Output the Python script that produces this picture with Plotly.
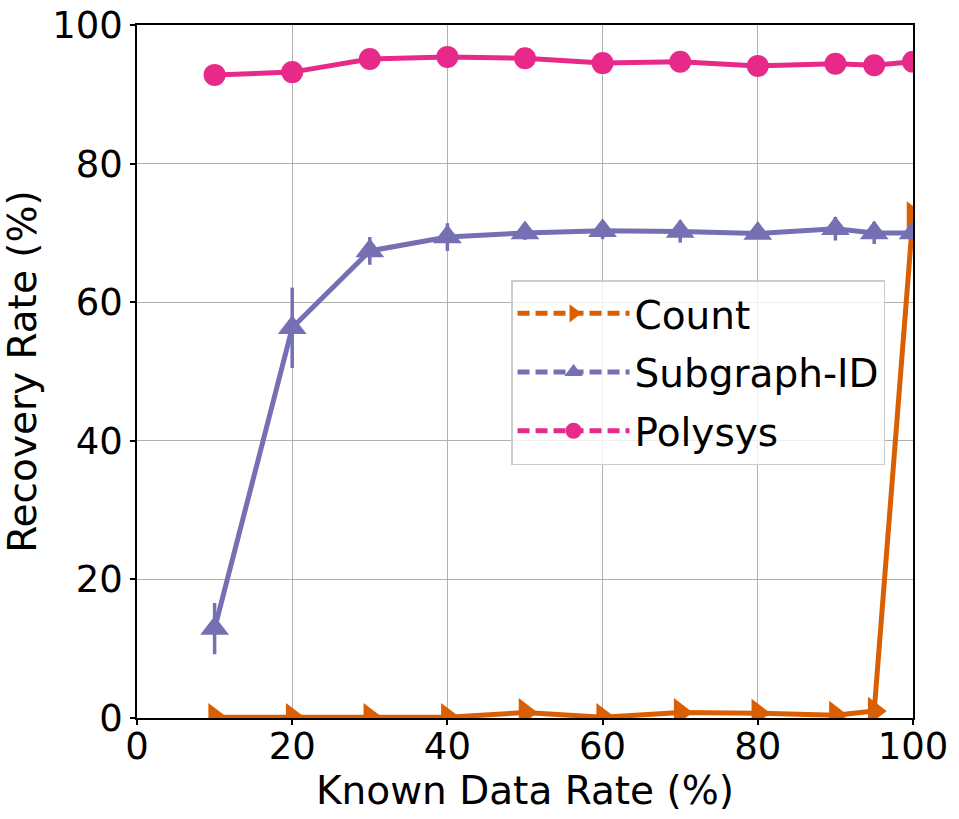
import plotly.graph_objects as go

x_vals = [10, 20, 30, 40, 50, 60, 70, 80, 90, 95, 100]

count_vals = [0.1, 0.1, 0.1, 0.1, 0.8, 0.1, 0.8, 0.7, 0.4, 1.0, 72.5]
count_err = [0.1, 0.1, 0.1, 0.1, 0.3, 0.1, 0.3, 0.3, 0.3, 0.4, 0.5]

subgraph_vals = [12.9, 56.3, 67.4, 69.4, 70.0, 70.3, 70.2, 69.9, 70.6, 70.0, 70.0]
subgraph_err = [3.7, 5.8, 2.0, 2.0, 1.0, 1.2, 1.6, 0.6, 1.7, 1.6, 0.5]

polysys_vals = [92.8, 93.2, 95.1, 95.4, 95.2, 94.5, 94.7, 94.1, 94.4, 94.2, 94.7]
polysys_err = [0.8, 0.4, 0.4, 0.4, 0.4, 0.4, 1.0, 0.4, 0.4, 0.4, 0.4]

series = [
    ("Count", count_vals, count_err, "#d95f02", "triangle-right", 25),
    ("Subgraph-ID", subgraph_vals, subgraph_err, "#7570b3", "triangle-up", 25),
    ("Polysys", polysys_vals, polysys_err, "#e7298a", "circle", 22),
]

fig = go.Figure()
for name, vals, err, color, sym, msize in series:
    fig.add_trace(go.Scatter(
        x=x_vals, y=vals, name=name, mode="lines+markers", showlegend=False,
        legendgroup=name,
        line=dict(color=color, width=5),
        marker=dict(symbol=sym, size=msize, color=color, line=dict(width=0)),
        error_y=dict(type="data", array=err, visible=True, color=color, thickness=3.5, width=0),
    ))
for name, vals, err, color, sym, msize in series:
    fig.add_trace(go.Scatter(
        x=[None], y=[None], name=name, mode="lines+markers", legendgroup=name,
        line=dict(color=color, width=5, dash="12px,6px"),
        marker=dict(symbol=sym, size=msize, color=color, line=dict(width=0)),
    ))

font_family = "DejaVu Sans"
fig.update_layout(
    width=959, height=819,
    margin=dict(l=137, r=46, t=25, b=101),
    plot_bgcolor="white", paper_bgcolor="white",
    font=dict(family=font_family, size=37, color="black"),
    legend=dict(
        x=0.482, y=0.632, xanchor="left", yanchor="top",
        bgcolor="rgba(255,255,255,0.8)", bordercolor="#cccccc", borderwidth=1.5,
        font=dict(size=39), itemwidth=112, tracegroupgap=5, traceorder="grouped",
    ),
    showlegend=True,
)
fig.update_xaxes(
    range=[0, 100], tickvals=[0, 20, 40, 60, 80, 100],
    title=dict(text="Known Data Rate (%)", font=dict(size=39), standoff=1),
    showgrid=True, gridcolor="#b0b0b0", gridwidth=1,
    showline=True, linecolor="black", linewidth=1.5, mirror=True,
    ticks="outside", ticklen=5, tickwidth=1.5, tickcolor="black",
    tickfont=dict(size=37), zeroline=False, automargin=False,
    ticklabelstandoff=-10,
)
fig.update_yaxes(
    range=[0, 100], tickvals=[0, 20, 40, 60, 80, 100],
    title=dict(text="Recovery Rate (%)", font=dict(size=39), standoff=8),
    showgrid=True, gridcolor="#b0b0b0", gridwidth=1,
    showline=True, linecolor="black", linewidth=1.5, mirror=True,
    ticks="outside", ticklen=5, tickwidth=1.5, tickcolor="black",
    tickfont=dict(size=37), zeroline=False, automargin=False,
)

fig.write_html("out.html")
